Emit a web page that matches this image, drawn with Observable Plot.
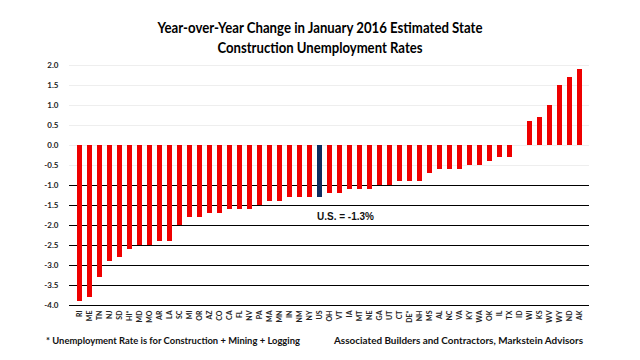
<!DOCTYPE html>
<html>
<head>
<meta charset="utf-8">
<script src="https://cdn.jsdelivr.net/npm/d3@7"></script>
<script src="https://cdn.jsdelivr.net/npm/@observablehq/plot@0.6"></script>
<style>
  html, body { margin: 0; padding: 0; background: #fff; }
  #wrap { position: relative; width: 640px; height: 360px; overflow: hidden; }
  #chart, #overlay { position: absolute; left: 0; top: 0; }
</style>
</head>
<body>
<div id="wrap">
  <div id="chart"></div>
  <svg id="overlay" width="640" height="360" xmlns="http://www.w3.org/2000/svg"></svg>
</div>
<script>
// ---- data ----
const states = ["RI","ME","TN","NJ","SD","HI*","MD","MO","AR","LA","SC","MI","OR","AZ","CO","CA","FL","NV","PA","MA","MN","IN","NM","NY","US","OH","VT","IA","MT","NE","GA","UT","CT","DE*","NH","MS","AL","NC","VA","KY","WA","OK","IL","TX","ID","WI","KS","WV","WY","ND","AK"];
const values = [-3.9,-3.8,-3.3,-2.9,-2.8,-2.6,-2.5,-2.5,-2.4,-2.4,-2.0,-1.8,-1.8,-1.7,-1.7,-1.6,-1.6,-1.6,-1.5,-1.4,-1.4,-1.3,-1.3,-1.3,-1.3,-1.2,-1.2,-1.1,-1.1,-1.1,-1.0,-1.0,-0.9,-0.9,-0.9,-0.7,-0.6,-0.6,-0.6,-0.5,-0.5,-0.4,-0.3,-0.3,0.0,0.6,0.7,1.0,1.5,1.7,1.9];
const yTicks = [-4.0,-3.5,-3.0,-2.5,-2.0,-1.5,-1.0,-0.5,0.0,0.5,1.0,1.5,2.0];
const usNote = [{state: "US", y: -1.78, label: "U.S. = -1.3%"}];
const titleLines = ["Year-over-Year Change in January 2016 Estimated State", "Construction Unemployment Rates"];
const footnote = "* Unemployment Rate is for Construction + Mining + Logging";
const source = "Associated Builders and Contractors, Markstein Advisors";

const RED = "#ee0000";
const NAVY = "#0d2b5e";

const data = states.map((s, i) => ({state: s, value: values[i]}));

const chart = Plot.plot({
  width: 640,
  height: 360,
  marginTop: 65,
  marginBottom: 55,
  marginLeft: 69,
  marginRight: 51,
  style: {fontFamily: "Lato, 'Liberation Sans', sans-serif", background: "white", color: "#222"},
  color: {type: "identity"},
  x: {domain: states, padding: 0.5, label: null},
  y: {domain: [-4, 2], label: null},
  marks: [
    Plot.ruleY(yTicks, {stroke: d => d <= -1 ? "#000000" : "#eeeeee", strokeWidth: 1}),
    Plot.barY(data, {x: "state", y1: 0, y2: "value", fill: d => d.state === "US" ? NAVY : RED}),
    Plot.axisY({ticks: yTicks, tickSize: 0, tickPadding: 11, tickFormat: d => d.toFixed(1), fontSize: 8, fontWeight: "bold", label: null}),
    Plot.axisX({tickSize: 0, tickRotate: -90, tickPadding: 5, fontSize: 7, fontWeight: "bold", label: null}),
    Plot.text(usNote, {x: "state", y: "y", text: "label", textAnchor: "start", dx: -3, fontSize: 10, fontWeight: "bold", fontFamily: "'Liberation Sans', Arial, sans-serif", fill: "#111"})
  ]
});
document.getElementById("chart").appendChild(chart);

// ---- title and footer as real text ----
const ov = d3.select("#overlay");
ov.append("text").attr("x", 320).attr("y", 33).attr("text-anchor", "middle")
  .attr("font-family", "Lato, sans-serif").attr("font-weight", "bold").attr("font-size", 15.5)
  .attr("textLength", 325).attr("lengthAdjust", "spacingAndGlyphs").attr("fill", "#000")
  .text(titleLines[0]);
ov.append("text").attr("x", 320).attr("y", 53).attr("text-anchor", "middle")
  .attr("font-family", "Lato, sans-serif").attr("font-weight", "bold").attr("font-size", 15.5)
  .attr("textLength", 205).attr("lengthAdjust", "spacingAndGlyphs").attr("fill", "#000")
  .text(titleLines[1]);
ov.append("text").attr("x", 46).attr("y", 344)
  .attr("font-family", "Lato, sans-serif").attr("font-weight", "bold").attr("font-size", 8.5)
  .attr("textLength", 254).attr("lengthAdjust", "spacingAndGlyphs").attr("fill", "#111")
  .text(footnote);
ov.append("text").attr("x", 334).attr("y", 344)
  .attr("font-family", "Lato, sans-serif").attr("font-weight", "bold").attr("font-size", 8.5)
  .attr("textLength", 249).attr("lengthAdjust", "spacingAndGlyphs").attr("fill", "#111")
  .text(source);
</script>
</body>
</html>
